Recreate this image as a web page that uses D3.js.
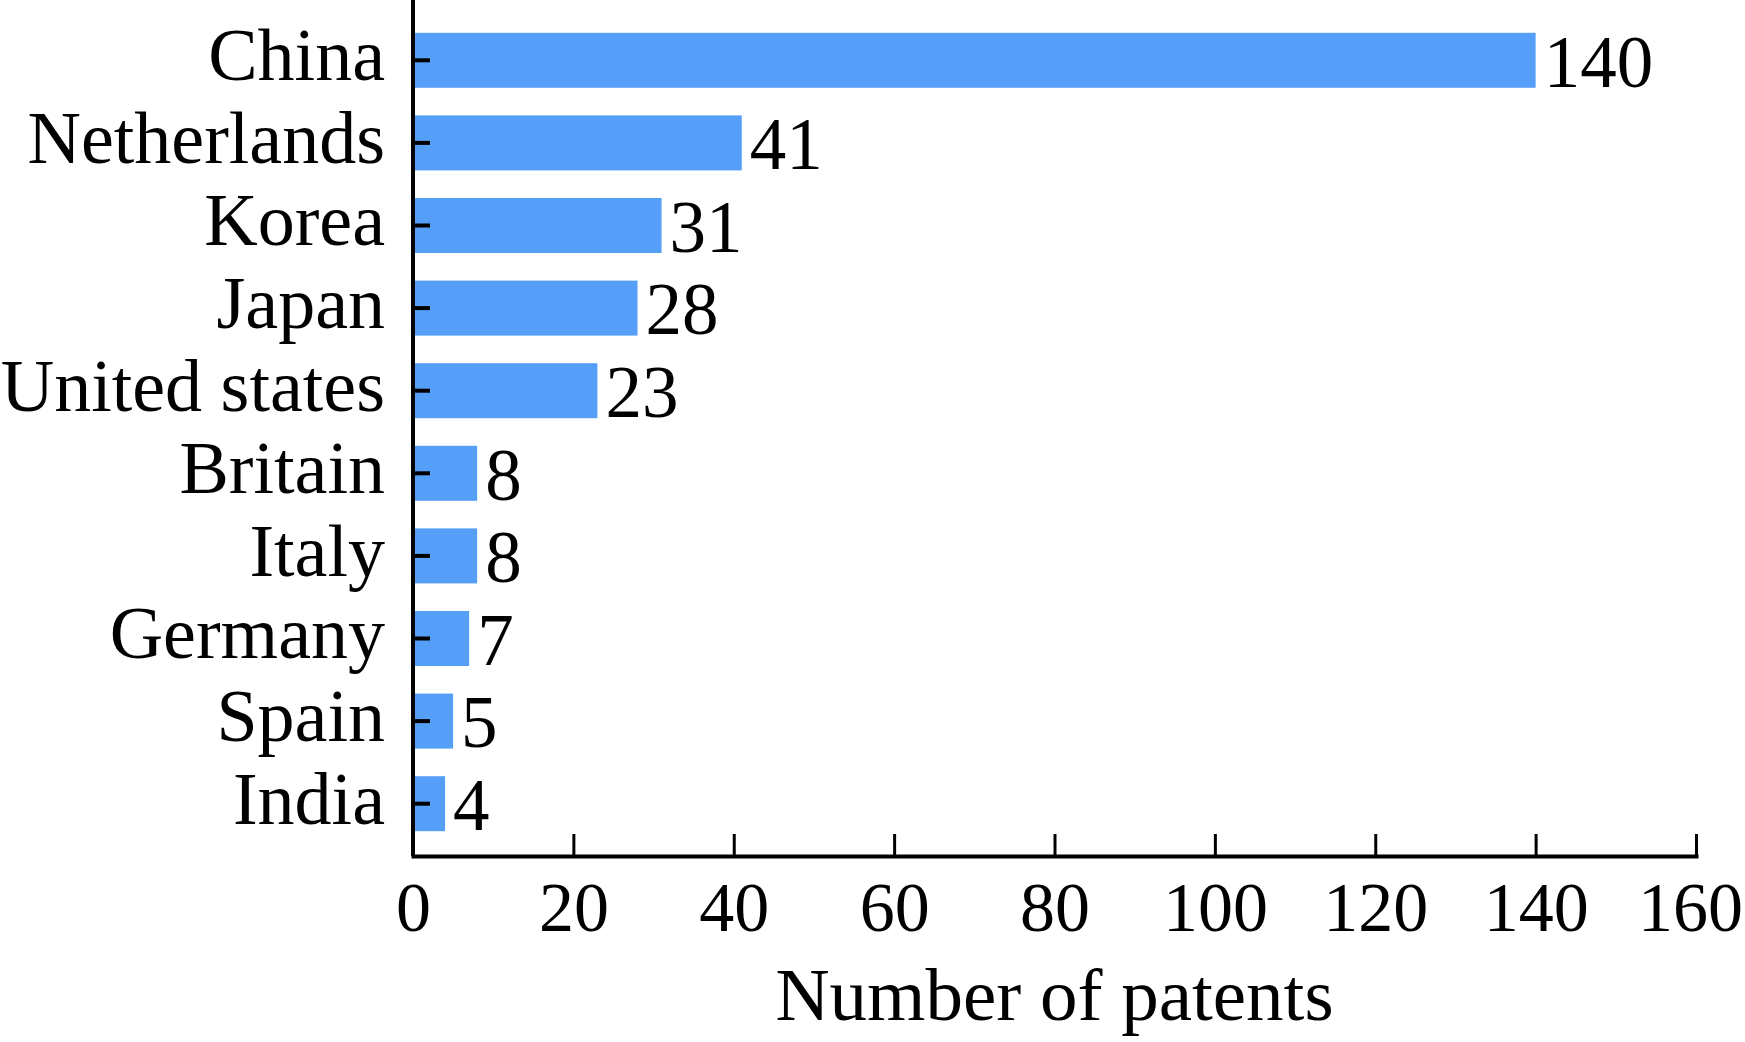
<!DOCTYPE html>
<html lang="en">
<head>
<meta charset="utf-8">
<title>Number of patents by country</title>
<script src="https://cdnjs.cloudflare.com/ajax/libs/d3/7.8.5/d3.min.js"></script>
<style>
  html, body { margin: 0; padding: 0; background: #fff; }
  svg { display: block; }
  text { font-family: "Liberation Serif", "Times New Roman", serif; fill: #000; }
</style>
</head>
<body>
<div id="chart"></div>
<script>
// data
var countries = ["China", "Netherlands", "Korea", "Japan", "United states",
                 "Britain", "Italy", "Germany", "Spain", "India"];
var patents = [140, 41, 31, 28, 23, 8, 8, 7, 5, 4];
var xTicks = [0, 20, 40, 60, 80, 100, 120, 140, 160];
var xTitle = "Number of patents";

var width = 1745, height = 1042;
var margin = {top: 0, left: 413, right: 49, bottom: 186};
var innerW = width - margin.left - margin.right;
var innerH = height - margin.top - margin.bottom;

var svg = d3.select("#chart").append("svg")
    .attr("width", width)
    .attr("height", height);

var g = svg.append("g")
    .attr("transform", "translate(" + margin.left + "," + margin.top + ")");

// scales
var x = d3.scaleLinear()
    .domain([0, 160])
    .range([0, innerW]);

var y = d3.scaleBand()
    .domain(countries)
    .range([19, 845])
    .paddingInner(0.334)
    .paddingOuter(0.167);

// bars
g.selectAll("rect.bar")
    .data(countries)
    .enter().append("rect")
    .attr("class", "bar")
    .attr("x", x(0))
    .attr("y", function(d) { return y(d); })
    .attr("width", function(d, i) { return x(patents[i]) - x(0); })
    .attr("height", y.bandwidth())
    .style("fill", "#569ff9");

// value labels
g.selectAll("text.val")
    .data(countries)
    .enter().append("text")
    .attr("class", "val")
    .attr("x", function(d, i) { return x(patents[i]) + 8; })
    .attr("y", function(d) { return y(d) + y.bandwidth() / 2; })
    .attr("dy", "0.36em")
    .style("font-size", "73px")
    .text(function(d, i) { return patents[i]; });

// y axis, ticks pointing inward
var yAxis = d3.axisLeft(y)
    .tickSizeInner(-17)
    .tickSizeOuter(0)
    .tickPadding(28);

var yg = g.append("g").call(yAxis);
yg.select(".domain").remove();
yg.selectAll(".tick line").attr("stroke", "#000").attr("stroke-width", 4);
yg.selectAll(".tick text")
    .attr("dy", "0.27em")
    .style("font-size", "74px");

// y axis line runs to the top edge
g.append("line")
    .attr("x1", 0).attr("x2", 0)
    .attr("y1", 0).attr("y2", innerH)
    .attr("stroke", "#000")
    .attr("stroke-width", 4);

// x axis
var xAxis = d3.axisBottom(x)
    .tickValues(xTicks)
    .tickSizeInner(-22)
    .tickSizeOuter(0)
    .tickPadding(25);

var xg = g.append("g")
    .attr("transform", "translate(0," + innerH + ")")
    .call(xAxis);
xg.select(".domain")
    .attr("stroke", "#000")
    .attr("stroke-width", 4)
    .attr("stroke-linecap", "square");
xg.selectAll(".tick line").attr("stroke", "#000").attr("stroke-width", 3);
xg.selectAll(".tick text").style("font-size", "70px");
// keep the last label inside the page
xg.selectAll(".tick text")
    .filter(function(d) { return d === 160; })
    .attr("dx", -6);

// x axis title
g.append("text")
    .attr("x", innerW / 2)
    .attr("y", 1020 - margin.top)
    .attr("text-anchor", "middle")
    .style("font-size", "75px")
    .text(xTitle);
</script>
</body>
</html>
